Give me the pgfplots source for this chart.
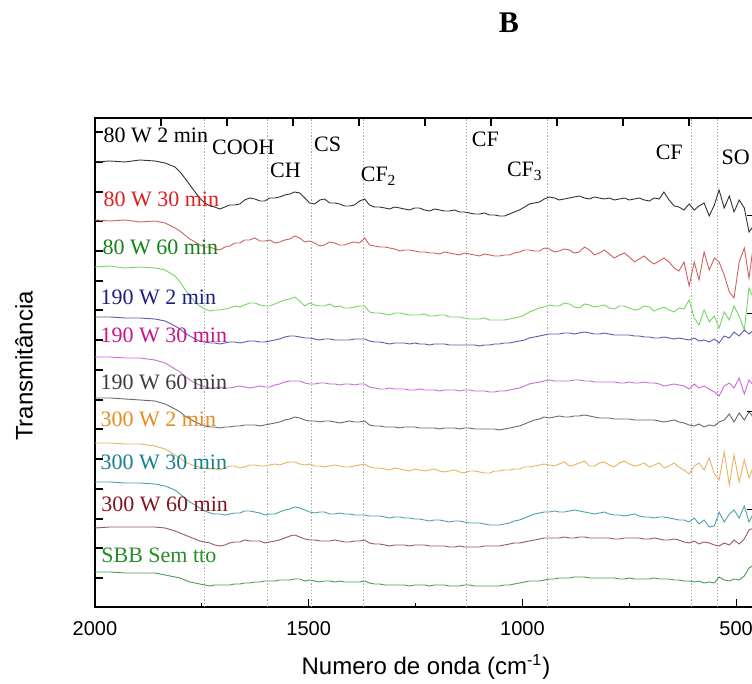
\documentclass[border=0pt]{standalone}
\usepackage{fontspec}
\setmainfont{Liberation Serif}
\newfontfamily\arial{Liberation Sans}
\usepackage{pgfplots}
\usepackage{pgfplotstable}
\pgfplotsset{compat=1.18}

\definecolor{lnA}{RGB}{50,50,50}     \definecolor{lbA}{RGB}{0,0,0}
\definecolor{lnB}{RGB}{210,95,95}    \definecolor{lbB}{RGB}{220,30,30}
\definecolor{lnC}{RGB}{115,215,95}   \definecolor{lbC}{RGB}{20,130,20}
\definecolor{lnD}{RGB}{90,90,175}    \definecolor{lbD}{RGB}{30,30,130}
\definecolor{lnE}{RGB}{205,105,220}  \definecolor{lbE}{RGB}{200,20,140}
\definecolor{lnF}{RGB}{105,105,105}  \definecolor{lbF}{RGB}{60,60,60}
\definecolor{lnG}{RGB}{232,178,95}   \definecolor{lbG}{RGB}{230,140,30}
\definecolor{lnH}{RGB}{75,162,172}   \definecolor{lbH}{RGB}{20,130,140}
\definecolor{lnI}{RGB}{155,85,95}    \definecolor{lbI}{RGB}{130,20,30}
\definecolor{lnJ}{RGB}{75,155,85}    \definecolor{lbJ}{RGB}{40,140,40}

\pgfplotstableread{
x a b c d e f g h i j
2000 -162 -220 -267 -317 -357 -398 -443 -482 -528 -572
1965 -161 -221 -266 -317 -357 -398 -443 -482 -527 -572
1930 -162 -220 -268 -318 -358 -399 -444 -483 -527 -573
1895 -160 -222 -267 -318 -358 -400 -444 -483 -527 -573
1860 -161 -221 -268 -319 -360 -401 -446 -484 -527 -573
1836 -163 -223 -270 -321 -363 -404 -449 -486 -528 -575
1813 -167 -228 -276 -326 -369 -409 -455 -490 -531 -577
1801 -172 -231 -282 -329 -372 -412 -458 -494 -533 -578
1790 -178 -235 -289 -333 -376 -416 -462 -498 -535 -580
1778 -185 -239 -296 -336 -380 -419 -464 -502 -537 -582
1766 -192 -242 -302 -339 -383 -422 -466 -505 -539 -583
1755 -198 -245 -306 -341 -385 -424 -467 -508 -541 -584
1743 -203 -247 -309 -342 -387 -426 -468 -511 -542 -585
1731 -206 -247 -311 -343 -388 -427 -469 -513 -543 -586
1720 -207 -249 -310 -343 -388 -427 -469 -514 -545 -585
1708 -209 -250 -310 -344 -387 -428 -470 -514 -546 -585
1696 -207 -247 -309 -343 -388 -427 -468 -515 -545 -585
1685 -205 -246 -308 -342 -388 -427 -466 -514 -543 -585
1673 -205 -243 -306 -342 -387 -426 -466 -513 -542 -584
1661 -204 -243 -307 -343 -386 -426 -468 -513 -542 -584
1650 -200 -240 -305 -342 -387 -425 -467 -511 -540 -583
1638 -198 -240 -303 -341 -388 -425 -465 -511 -541 -583
1626 -199 -238 -303 -341 -387 -425 -465 -512 -541 -582
1614 -201 -241 -305 -342 -386 -426 -466 -513 -541 -582
1603 -201 -241 -306 -342 -387 -425 -466 -515 -543 -581
1591 -198 -240 -306 -341 -387 -424 -465 -514 -542 -581
1579 -198 -243 -304 -340 -385 -423 -464 -514 -541 -581
1568 -197 -242 -302 -339 -384 -422 -465 -512 -540 -580
1556 -195 -240 -300 -337 -382 -420 -463 -510 -538 -580
1544 -194 -239 -299 -336 -381 -419 -462 -509 -536 -580
1533 -192 -236 -297 -336 -381 -417 -462 -507 -535 -579
1521 -193 -238 -301 -337 -381 -418 -464 -508 -537 -579
1509 -198 -242 -306 -338 -383 -420 -465 -510 -539 -581
1498 -203 -241 -303 -338 -384 -421 -464 -512 -540 -580
1486 -204 -243 -305 -339 -384 -421 -466 -513 -540 -581
1474 -200 -246 -306 -340 -383 -422 -466 -512 -541 -582
1463 -199 -245 -306 -339 -383 -421 -467 -512 -541 -581
1451 -203 -242 -304 -339 -384 -421 -466 -514 -541 -581
1439 -203 -243 -307 -340 -384 -422 -465 -514 -540 -582
1428 -204 -245 -306 -340 -385 -423 -466 -513 -541 -581
1416 -206 -245 -308 -340 -384 -422 -467 -514 -542 -582
1404 -206 -243 -308 -340 -384 -421 -467 -514 -542 -582
1393 -205 -242 -307 -339 -385 -422 -466 -515 -541 -582
1381 -201 -243 -306 -339 -384 -422 -465 -515 -541 -582
1369 -199 -238 -306 -339 -384 -421 -464 -515 -540 -581
1358 -205 -245 -312 -341 -387 -425 -467 -516 -543 -583
1346 -207 -246 -313 -342 -388 -426 -468 -516 -544 -584
1334 -207 -247 -313 -342 -389 -426 -468 -516 -544 -584
1322 -208 -247 -314 -343 -389 -427 -469 -517 -545 -585
1311 -209 -248 -315 -344 -388 -427 -470 -518 -546 -585
1299 -207 -249 -313 -343 -389 -427 -468 -517 -545 -585
1287 -208 -251 -313 -343 -389 -428 -469 -517 -545 -585
1276 -209 -250 -314 -343 -389 -427 -470 -518 -545 -585
1264 -210 -250 -315 -344 -390 -427 -471 -518 -546 -586
1252 -208 -251 -315 -343 -390 -427 -469 -519 -545 -585
1241 -208 -252 -315 -344 -389 -428 -470 -519 -545 -585
1229 -210 -252 -314 -344 -390 -428 -471 -520 -545 -585
1217 -211 -253 -316 -345 -390 -428 -470 -521 -546 -586
1206 -209 -253 -316 -344 -390 -428 -469 -520 -546 -585
1194 -210 -254 -315 -344 -391 -429 -471 -520 -546 -585
1182 -211 -252 -315 -344 -390 -428 -472 -521 -546 -585
1171 -211 -253 -317 -345 -390 -428 -471 -522 -547 -586
1159 -210 -254 -317 -345 -390 -428 -470 -521 -547 -586
1147 -212 -255 -317 -345 -391 -429 -472 -521 -546 -586
1136 -212 -253 -318 -345 -390 -428 -473 -522 -547 -585
1124 -213 -254 -319 -345 -390 -428 -471 -523 -547 -585
1112 -214 -255 -319 -345 -391 -429 -471 -523 -547 -586
1100 -214 -256 -319 -346 -391 -429 -472 -523 -547 -586
1089 -213 -254 -318 -345 -391 -429 -473 -524 -546 -586
1077 -215 -255 -320 -345 -392 -429 -473 -525 -546 -586
1065 -215 -256 -320 -344 -392 -429 -471 -525 -546 -586
1054 -216 -256 -320 -344 -391 -430 -471 -525 -546 -586
1042 -216 -255 -320 -343 -391 -429 -470 -524 -545 -585
1030 -214 -255 -319 -343 -390 -428 -470 -523 -544 -585
1019 -212 -253 -318 -342 -389 -427 -469 -521 -543 -584
1007 -210 -252 -317 -341 -388 -426 -469 -520 -543 -583
995 -207 -250 -315 -340 -386 -424 -467 -518 -542 -582
984 -204 -250 -312 -338 -384 -422 -467 -516 -541 -581
972 -203 -251 -310 -337 -383 -420 -466 -514 -540 -581
960 -202 -251 -308 -336 -382 -419 -465 -513 -539 -581
949 -199 -248 -307 -335 -381 -417 -464 -512 -538 -580
937 -197 -249 -305 -334 -380 -418 -465 -512 -538 -579
925 -198 -252 -306 -334 -381 -417 -466 -511 -538 -579
914 -200 -251 -306 -334 -381 -416 -464 -512 -538 -578
902 -199 -249 -303 -333 -381 -417 -462 -512 -537 -578
890 -198 -250 -304 -333 -381 -417 -466 -511 -538 -578
879 -197 -253 -307 -334 -380 -416 -465 -510 -538 -577
867 -196 -252 -308 -333 -380 -416 -463 -511 -537 -577
855 -198 -247 -304 -332 -381 -415 -461 -512 -537 -577
843 -199 -250 -305 -333 -381 -416 -466 -513 -538 -578
832 -197 -255 -307 -334 -382 -417 -466 -514 -538 -578
820 -198 -253 -306 -334 -382 -418 -463 -513 -538 -578
808 -199 -250 -305 -333 -382 -418 -462 -512 -538 -578
797 -198 -254 -308 -334 -382 -418 -465 -514 -538 -578
785 -200 -258 -309 -335 -382 -419 -467 -515 -539 -578
773 -199 -255 -306 -335 -383 -419 -463 -515 -539 -579
762 -198 -253 -306 -335 -383 -419 -461 -516 -538 -579
750 -200 -257 -308 -335 -382 -419 -464 -515 -538 -578
738 -199 -262 -310 -336 -383 -420 -466 -514 -538 -579
727 -198 -259 -309 -336 -383 -420 -465 -516 -538 -579
715 -200 -256 -306 -337 -382 -420 -463 -517 -539 -579
703 -201 -261 -307 -337 -383 -420 -467 -517 -539 -579
692 -198 -264 -311 -338 -383 -420 -465 -518 -538 -578
680 -199 -261 -309 -338 -384 -421 -463 -517 -539 -579
669 -192 -258 -307 -337 -386 -422 -468 -517 -540 -579
657 -200 -262 -310 -338 -385 -421 -466 -518 -540 -579
645 -206 -268 -312 -339 -384 -420 -463 -519 -539 -580
634 -207 -271 -308 -338 -385 -422 -467 -520 -540 -580
622 -210 -262 -309 -339 -386 -423 -470 -520 -542 -581
610 -204 -286 -300 -340 -389 -425 -474 -522 -543 -581
598 -210 -262 -318 -338 -384 -426 -466 -518 -541 -582
587 -206 -280 -325 -341 -388 -424 -463 -524 -544 -581
575 -203 -252 -310 -340 -386 -427 -470 -520 -542 -583
563 -216 -270 -322 -342 -389 -425 -458 -527 -543 -582
551 -205 -258 -316 -339 -392 -426 -474 -526 -545 -583
540 -190 -262 -328 -343 -396 -422 -480 -512 -546 -577
528 -208 -275 -312 -336 -386 -420 -452 -522 -543 -580
516 -196 -292 -320 -338 -383 -414 -485 -514 -545 -581
505 -212 -298 -306 -332 -388 -422 -455 -510 -540 -579
493 -200 -262 -316 -336 -378 -413 -482 -518 -544 -580
481 -208 -248 -330 -330 -394 -420 -460 -506 -539 -576
470 -232 -278 -288 -334 -380 -412 -478 -522 -530 -568
458 -225 -240 -300 -330 -386 -418 -465 -512 -528 -565
}\spectra

\begin{document}
\begin{tikzpicture}
\useasboundingbox (-47.5pt,-38.5pt) rectangle (328.5pt,303.5pt);
\clip (-47.5pt,-38.5pt) rectangle (328.5pt,303.5pt);
\begin{axis}[
  at={(0pt,0pt)}, anchor=south west,
  scale only axis, width=330pt, height=244.5pt,
  x dir=reverse, xmin=456, xmax=2000, ymin=-607, ymax=-118,
  xtick={500,1000,1500,2000}, minor xtick={750,1250,1750},
  xtick pos=left, ytick pos=left,
  ytick={-578,-548,-519,-489,-459,-429,-400,-370,-340,-310,-281,-251,-221,-192,-162,-132},
  yticklabels={},
  tick align=inside, major tick length=4pt, minor tick length=2.2pt,
  every tick/.style={black, line width=0.6pt},
  axis line style={line width=0.8pt},
  /pgf/number format/assume math mode=true,
  /pgf/number format/1000 sep={},
  xticklabel style={font=\arial\fontsize{10}{12}\selectfont, yshift=-3.5pt},
  xlabel={Numero de onda (cm\textsuperscript{-1})},
  ylabel={Transmitância},
  label style={font=\arial\fontsize{12}{14}\selectfont},
  xlabel style={at={(axis description cs:0.5015,-0.1227)}, anchor=center},
  ylabel style={at={(axis description cs:-0.1076,0.493)}, anchor=center},
]
% reference lines of the assigned bands
\addplot[gray!70, densely dotted, line width=0.6pt] coordinates {(1743,-607) (1743,-118)};
\addplot[gray!70, densely dotted, line width=0.6pt] coordinates {(1596,-607) (1596,-118)};
\addplot[gray!70, densely dotted, line width=0.6pt] coordinates {(1493,-607) (1493,-118)};
\addplot[gray!70, densely dotted, line width=0.6pt] coordinates {(1371,-607) (1371,-118)};
\addplot[gray!70, densely dotted, line width=0.6pt] coordinates {(1131,-607) (1131,-118)};
\addplot[gray!70, densely dotted, line width=0.6pt] coordinates {(942,-607) (942,-118)};
\addplot[gray!70, densely dotted, line width=0.6pt] coordinates {(605,-607) (605,-118)};
\addplot[gray!70, densely dotted, line width=0.6pt] coordinates {(544,-607) (544,-118)};

\addplot[lnA, line width=0.45pt] table[x=x,y=a]{\spectra};
\addplot[lnB, line width=0.45pt] table[x=x,y=b]{\spectra};
\addplot[lnC, line width=0.45pt] table[x=x,y=c]{\spectra};
\addplot[lnD, line width=0.45pt] table[x=x,y=d]{\spectra};
\addplot[lnE, line width=0.45pt] table[x=x,y=e]{\spectra};
\addplot[lnF, line width=0.45pt] table[x=x,y=f]{\spectra};
\addplot[lnG, line width=0.45pt] table[x=x,y=g]{\spectra};
\addplot[lnH, line width=0.45pt] table[x=x,y=h]{\spectra};
\addplot[lnI, line width=0.45pt] table[x=x,y=i]{\spectra};
\addplot[lnJ, line width=0.45pt] table[x=x,y=j]{\spectra};

\begin{scope}[every node/.style={anchor=base west, inner sep=0pt, font=\fontsize{11}{13}\selectfont}]
\node at (axis cs:1727,-155) {COOH};
\node at (axis cs:1591,-178) {CH};
\node at (axis cs:1488,-152) {CS};
\node at (axis cs:1379,-182) {CF\textsubscript{2}};
\node at (axis cs:1119,-147) {CF};
\node at (axis cs:1037,-177) {CF\textsubscript{3}};
\node at (axis cs:689,-160) {CF};
\node at (axis cs:535,-165) {SO};

\node[text=lbA] at (axis cs:1981,-143) {80 W 2 min};
\node[text=lbB] at (axis cs:1981,-207) {80 W 30 min};
\node[text=lbC] at (axis cs:1983,-255) {80 W 60 min};
\node[text=lbD] at (axis cs:1988,-305) {190 W 2 min};
\node[text=lbE] at (axis cs:1988,-343) {190 W 30 min};
\node[text=lbF] at (axis cs:1988,-390) {190 W 60 min};
\node[text=lbG] at (axis cs:1988,-427) {300 W 2 min};
\node[text=lbH] at (axis cs:1988,-470) {300 W 30 min};
\node[text=lbI] at (axis cs:1986,-512) {300 W 60 min};
\node[text=lbJ] at (axis cs:1986,-563) {SBB Sem tto};
\end{scope}
\end{axis}

% mirror ticks on the top and right sides
\begin{axis}[
  at={(0pt,0pt)}, anchor=south west,
  scale only axis, width=330pt, height=244.5pt,
  xmin=0, xmax=10, ymin=0, ymax=5,
  xtick={1,2,3,4,5,6,7,8,9}, ytick={1,2,3,4},
  xtick pos=right, ytick pos=right,
  xticklabels={}, yticklabels={},
  tick align=inside, major tick length=4pt,
  every tick/.style={black, line width=0.6pt},
  axis line style={draw=none},
]
\end{axis}

\node[font=\fontsize{15}{18}\selectfont\bfseries] at (207pt,292pt) {B};
\end{tikzpicture}
\end{document}
